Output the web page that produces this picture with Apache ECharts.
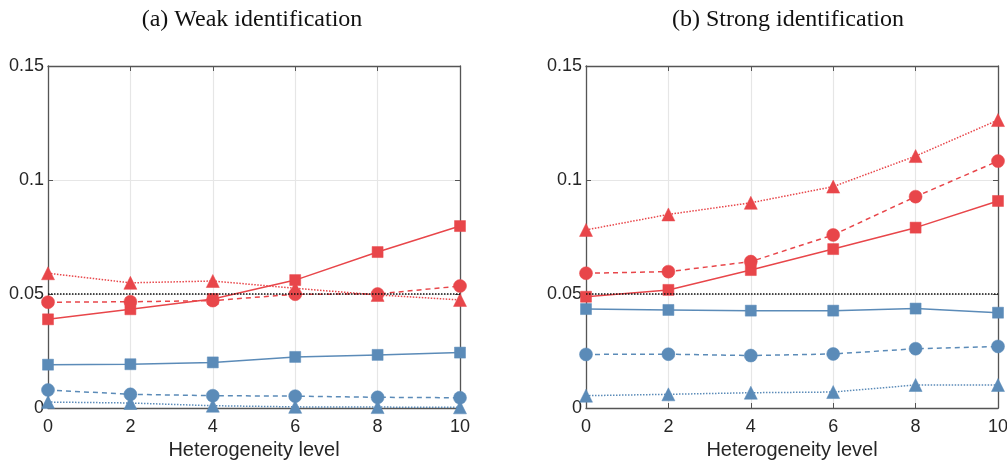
<!DOCTYPE html>
<html><head><meta charset="utf-8">
<script src="https://cdn.jsdelivr.net/npm/echarts@6/dist/echarts.min.js"></script>
<style>html,body{margin:0;padding:0;background:#fff}#c{width:1007px;height:460px}</style>
</head><body><div id="c"></div>
<script>
const xLevels = [0, 2, 4, 6, 8, 10];
const yTicks = [0, 0.05, 0.1, 0.15];
const refLevel = 0.05;
const titles = ['(a) Weak identification', '(b) Strong identification'];
const xName = 'Heterogeneity level';

// Panel (a) weak identification
const weakRedSquare   = [0.0389, 0.0433, 0.0478, 0.0561, 0.0684, 0.0798];
const weakRedCircle   = [0.0464, 0.0466, 0.0471, 0.0499, 0.0500, 0.0535];
const weakRedTriangle = [0.0591, 0.0549, 0.0557, 0.0525, 0.0496, 0.0474];
const weakBlueSquare   = [0.0190, 0.0192, 0.0200, 0.0224, 0.0233, 0.0243];
const weakBlueCircle   = [0.0079, 0.0060, 0.0054, 0.0052, 0.0047, 0.0045];
const weakBlueTriangle = [0.0026, 0.0022, 0.0010, 0.0005, 0.0004, 0.0003];

// Panel (b) strong identification
const strongRedSquare   = [0.0488, 0.0518, 0.0605, 0.0697, 0.0791, 0.0908];
const strongRedCircle   = [0.0591, 0.0598, 0.0642, 0.0759, 0.0927, 0.1083];
const strongRedTriangle = [0.0781, 0.0849, 0.0900, 0.0971, 0.1105, 0.1263];
const strongBlueSquare   = [0.0434, 0.0430, 0.0427, 0.0427, 0.0436, 0.0418];
const strongBlueCircle   = [0.0235, 0.0236, 0.0230, 0.0237, 0.0260, 0.0270];
const strongBlueTriangle = [0.0054, 0.0060, 0.0067, 0.0070, 0.0101, 0.0101];

const RED = '#E8464A', BLUE = '#5B8BB8';
const chart = echarts.init(document.getElementById('c'));
const pts = arr => arr.map((v, i) => [xLevels[i], v]);
const symMap = {square: ['rect', 11], circle: ['circle', 13], triangle: ['triangle', 13]};
const typeMap = {square: 'solid', circle: [5, 4], triangle: [1.5, 1.5]};

const grids = [
  {left: 48, right: 547, top: 66, bottom: 52, containLabel: false, outerBoundsMode: 'none'},
  {left: 586, right: 9, top: 66, bottom: 52, containLabel: false, outerBoundsMode: 'none'}
];
const xAxes = [], yAxes = [], series = [];
const fontSans = 'Liberation Sans, Arial, sans-serif';
const lineCol = '#555';
grids.forEach((g, gi) => {
  xAxes.push({
    gridIndex: gi, type: 'value', min: 0, max: 10, interval: 2,
    name: xName, nameLocation: 'middle', nameGap: 31,
    nameTextStyle: {fontFamily: fontSans, fontSize: 20, color: '#262626'},
    axisLine: {show: true, onZero: false, lineStyle: {color: lineCol, width: 1.3}},
    axisTick: {show: true, inside: true, length: 5, lineStyle: {color: lineCol}},
    axisLabel: {fontFamily: fontSans, fontSize: 18, color: '#262626', margin: 10},
    splitLine: {show: true, lineStyle: {color: '#e6e6e6', width: 1.2}}
  });
  xAxes.push({
    gridIndex: gi, type: 'value', position: 'top', min: 0, max: 10, interval: 2,
    axisLine: {show: true, onZero: false, lineStyle: {color: lineCol, width: 1.3}},
    axisTick: {show: true, inside: true, length: 5, lineStyle: {color: lineCol}},
    axisLabel: {show: false}, splitLine: {show: false}
  });
  yAxes.push({
    gridIndex: gi, type: 'value', min: 0, max: 0.15, interval: 0.05,
    axisLine: {show: true, onZero: false, lineStyle: {color: lineCol, width: 1.3}},
    axisTick: {show: true, inside: true, length: 5, lineStyle: {color: lineCol}},
    axisLabel: {fontFamily: fontSans, fontSize: 18, color: '#262626', margin: 4,
      formatter: v => String(+v.toFixed(2))},
    splitLine: {show: true, lineStyle: {color: '#e6e6e6', width: 1.2}}
  });
  yAxes.push({
    gridIndex: gi, type: 'value', position: 'right', min: 0, max: 0.15, interval: 0.05,
    axisLine: {show: true, onZero: false, lineStyle: {color: lineCol, width: 1.3}},
    axisTick: {show: true, inside: true, length: 5, lineStyle: {color: lineCol}},
    axisLabel: {show: false}, splitLine: {show: false}
  });
});

const panels = [
  [['square', RED, weakRedSquare], ['circle', RED, weakRedCircle], ['triangle', RED, weakRedTriangle],
   ['square', BLUE, weakBlueSquare], ['circle', BLUE, weakBlueCircle], ['triangle', BLUE, weakBlueTriangle]],
  [['square', RED, strongRedSquare], ['circle', RED, strongRedCircle], ['triangle', RED, strongRedTriangle],
   ['square', BLUE, strongBlueSquare], ['circle', BLUE, strongBlueCircle], ['triangle', BLUE, strongBlueTriangle]]
];
panels.forEach((list, gi) => {
  series.push({
    type: 'line', xAxisIndex: gi * 2, yAxisIndex: gi * 2, data: [], silent: true,
    markLine: {symbol: 'none', silent: true, label: {show: false},
      lineStyle: {color: '#111', type: [1.5, 1.5], width: 1.5},
      data: [{yAxis: refLevel}]}
  });
  list.forEach(([shape, col, arr]) => {
    series.push({
      type: 'line', xAxisIndex: gi * 2, yAxisIndex: gi * 2, data: pts(arr),
      symbol: symMap[shape][0], symbolSize: symMap[shape][1], showSymbol: true,
      lineStyle: {color: col, width: 1.5, type: typeMap[shape]},
      itemStyle: {color: col, borderColor: col, borderWidth: 0.5},
      z: 3, animation: false
    });
  });
});

const titleStyle = {fontFamily: 'Liberation Serif, serif', fontSize: 24, fontWeight: 'normal', color: '#111'};
chart.setOption({
  animation: false,
  grid: grids,
  xAxis: xAxes,
  yAxis: yAxes,
  title: [
    {text: titles[0], left: 247, top: 3, textAlign: 'center', textStyle: titleStyle},
    {text: titles[1], left: 783, top: 3, textAlign: 'center', textStyle: titleStyle}
  ],
  series: series
});
</script></body></html>
